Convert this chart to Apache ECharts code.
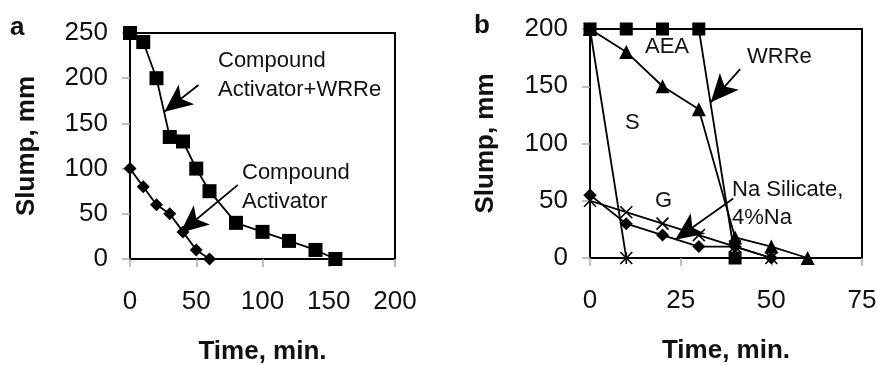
<!DOCTYPE html>
<html><head><meta charset="utf-8">
<script src="https://cdn.jsdelivr.net/npm/echarts@6/dist/echarts.min.js"></script>
<style>html,body{margin:0;padding:0;background:#fff}#c{width:877px;height:365px}</style>
</head><body><div id="c"></div>
<script>
// ---- Panel a data ----
const aTimeWRRe = [0,10,20,30,40,50,60,80,100,120,140,155];
const aSlumpWRRe = [250,240,200,135,130,100,75,40,30,20,10,0];
const aTimeAct = [0,10,20,30,40,50,60];
const aSlumpAct = [100,80,60,50,30,10,0];
const aXTicks = [0,50,100,150,200];
const aYTicks = [0,50,100,150,200,250];
// ---- Panel b data ----
const bTimeWRRe = [0,10,20,30,40];
const bSlumpWRRe = [200,200,200,200,0];
const bTimeAEA = [0,10,20,30,40,50,60];
const bSlumpAEA = [200,180,150,130,18,10,0];
const bTimeNa = [0,10,20,30,40,50];
const bSlumpNa = [55,30,20,10,10,0];
const bTimeG = [0,10,20,30,40,50];
const bSlumpG = [50,40,30,20,10,0];
const bTimeS = [0,10];
const bSlumpS = [200,0];
const bXTicks = [0,25,50,75];
const bYTicks = [0,50,100,150,200];

const FONT = '"Liberation Sans", Arial, sans-serif';
const pairs = (xs, ys) => xs.map((x,i)=>[x, ys[i]]);

function axisPair(grid, ticks, name, nameGap, labelMargin) {
  const min = ticks[0], max = ticks[ticks.length-1], interval = ticks[1]-ticks[0];
  const main = {
    type:'value', gridIndex:grid, min, max, interval,
    axisLine:{show:true, lineStyle:{color:'#000', width:2}},
    axisTick:{show:true, length:8, lineStyle:{color:'#aaa', width:1.5}},
    axisLabel:{show:true, fontSize:26, color:'#111', fontFamily:FONT, margin:labelMargin},
    splitLine:{show:false},
    name:name, nameLocation:'middle', nameGap:nameGap,
    nameTextStyle:{fontSize:26, fontWeight:'bold', color:'#111', fontFamily:FONT}
  };
  const inner = {
    type:'value', gridIndex:grid, min, max, interval,
    axisLine:{show:false},
    axisTick:{show:true, inside:true, length:7, lineStyle:{color:'#aaa', width:1.5}},
    axisLabel:{show:false}, splitLine:{show:false}
  };
  return [main, inner];
}

const xA = axisPair(0,aXTicks,'Time, min.',80,30);
const yA = axisPair(0,aYTicks,'Slump, mm',90,22);
const xB = axisPair(1,bXTicks,'Time, min.',80,30);
const yB = axisPair(1,bYTicks,'Slump, mm',91,22);

const lineStyle = {color:'#000', width:1.8};
const solid = {color:'#000'};
const hollow = {color:'none', borderColor:'#000', borderWidth:1.6};
const XSYM = 'path://M0,0L10,10M10,0L0,10';
const STAR = 'path://M5,0L5,10M0,0L10,10M10,0L0,10';

const arrowLine = (segs) => ({
  silent:true, animation:false, symbol:['none','arrow'], symbolSize:[1,26],
  label:{show:false}, lineStyle:{color:'#000', width:1.8, type:'solid'},
  emphasis:{disabled:true},
  data: segs.map(s => [{coord:s[0], symbol:'none'}, {coord:s[1], symbol:'arrow', symbolSize:[19,28]}])
});

function text(str, x, y) {
  return {type:'text', left:x, top:y, style:{text:str, fontSize:22, fill:'#111', fontFamily:FONT}, z:100};
}

const option = {
  animation:false,
  backgroundColor:'#fff',
  grid:[
    {left:130, top:33, width:265, height:226, show:true, borderColor:'#000', borderWidth:2, backgroundColor:'transparent', outerBoundsMode:'none', containLabel:false},
    {left:590, top:29, width:272, height:229, show:true, borderColor:'#000', borderWidth:2, backgroundColor:'transparent', outerBoundsMode:'none', containLabel:false}
  ],
  xAxis:[xA[0], xA[1], xB[0], xB[1]],
  yAxis:[yA[0], yA[1], yB[0], yB[1]],
  series:[
    {type:'line', xAxisIndex:0, yAxisIndex:0, data:pairs(aTimeWRRe,aSlumpWRRe), symbol:'rect', symbolSize:14, lineStyle, itemStyle:solid,
     markLine: arrowLine([[[51.7,192.5],[26,163]], [[81.4,82],[38,29]]])},
    {type:'line', xAxisIndex:0, yAxisIndex:0, data:pairs(aTimeAct,aSlumpAct), symbol:'diamond', symbolSize:13, lineStyle, itemStyle:solid},
    {type:'line', xAxisIndex:2, yAxisIndex:2, data:pairs(bTimeWRRe,bSlumpWRRe), symbol:'rect', symbolSize:13, lineStyle, itemStyle:solid,
     markLine: arrowLine([[[41.4,165],[33.3,136]], [[39.5,52],[23.5,16]]])},
    {type:'line', xAxisIndex:2, yAxisIndex:2, data:pairs(bTimeAEA,bSlumpAEA), symbol:'triangle', symbolSize:14, lineStyle, itemStyle:solid},
    {type:'line', xAxisIndex:2, yAxisIndex:2, data:pairs(bTimeNa,bSlumpNa), symbol:'diamond', symbolSize:13, lineStyle, itemStyle:solid},
    {type:'line', xAxisIndex:2, yAxisIndex:2, data:pairs(bTimeG,bSlumpG), symbol:XSYM, symbolSize:12, lineStyle, itemStyle:hollow},
    {type:'line', xAxisIndex:2, yAxisIndex:2, data:pairs(bTimeS,bSlumpS), symbol:STAR, symbolSize:12, lineStyle, itemStyle:hollow}
  ],
  graphic:[
    {type:'text', left:10, top:15, style:{text:'a', fontSize:26, fontWeight:'bold', fill:'#111', fontFamily:FONT}},
    {type:'text', left:474, top:13, style:{text:'b', fontSize:26, fontWeight:'bold', fill:'#111', fontFamily:FONT}},
    text('Compound', 218, 50),
    text('Activator+WRRe', 218, 79),
    text('Compound', 242, 162),
    text('Activator', 242, 191),
    text('AEA', 645, 36),
    text('WRRe', 747, 46),
    text('S', 625, 112),
    text('G', 655, 190),
    text('Na Silicate,', 732, 179),
    text('4%Na', 732, 207)
  ]
};
const chart = echarts.init(document.getElementById('c'), null, {renderer:'canvas'});
chart.setOption(option);
</script></body></html>
